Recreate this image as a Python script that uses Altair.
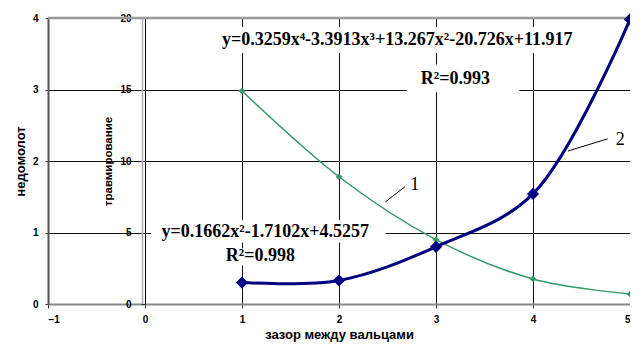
import altair as alt
import pandas as pd

# ---- data ----
gap = [1, 2, 3, 4, 5]
nedomolot = [2.98, 1.78, 0.90, 0.35, 0.14]      # left axis (curve 1)
travm = [1.5, 1.65, 4.0, 7.7, 19.9]            # second axis (curve 2)

x_ticks = [-1, 0, 1, 2, 3, 4, 5]
left_ticks = [0, 1, 2, 3, 4]
right_ticks = [0, 5, 10, 15, 20]

eq_text = ["y=0.3259x⁴-3.3913x³+13.267x²-20.726x+11.917", "R²=0.993",
           "y=0.1662x²-1.7102x+4.5257", "R²=0.998"]
eq_x = [2.60, 3.20, 1.24, 1.19]
eq_y = [3.69, 3.14, 1.01, 0.67]
box_x = [0.68, 2.70, 0.06, 0.77]
box_x2 = [4.50, 3.86, 2.48, 1.60]
box_y = [3.51, 2.96, 0.86, 0.54]
box_y2 = [3.875, 3.35, 1.17, 0.78]

num_text = ["1", "2"]
num_x = [2.78, 4.90]
num_y = [1.67, 2.29]
lead_x = [2.48, 4.36]
lead_x2 = [2.68, 4.77]
lead_y = [1.43, 2.14]
lead_y2 = [1.64, 2.31]

W, H = 582, 286

green_df = pd.DataFrame({"x": gap, "y": nedomolot})
blue_df = pd.DataFrame({"x": gap, "y": travm})
eq_df = pd.DataFrame({"t": eq_text, "x": eq_x, "y": eq_y})
box_df = pd.DataFrame({"x": box_x, "x2": box_x2, "y": box_y, "y2": box_y2})
num_df = pd.DataFrame({"t": num_text, "x": num_x, "y": num_y})
lead_df = pd.DataFrame({"x": lead_x, "x2": lead_x2, "y": lead_y, "y2": lead_y2})

xscale = alt.Scale(domain=[-1, 5], nice=False, zero=False)
lscale = alt.Scale(domain=[0, 4], nice=False)
rscale = alt.Scale(domain=[0, 20], nice=False)

xaxis = alt.Axis(values=x_ticks, format="d", title="зазор между вальцами",
                 grid=True, gridColor="#111", gridWidth=1,
                 domainColor="#888", domainWidth=2, tickColor="#333", tickSize=4,
                 labelPadding=6, titlePadding=4, titleFontSize=13, labelFontSize=10)
laxis = alt.Axis(values=left_ticks, format="d", title="недомолот",
                 grid=True, gridColor="#111", gridWidth=1,
                 domainColor="#555", domainWidth=2, tickColor="#333", tickSize=3,
                 labelPadding=7, titlePadding=5, titleFontSize=13, labelFontSize=10)
raxis = alt.Axis(values=right_ticks, format="d", title="травмирование", orient="left",
                 offset=-97, grid=False, domainColor="#000", domainWidth=1,
                 tickColor="#333", tickSize=4, labelPadding=10, titlePadding=6,
                 titleFontSize=11.5, labelFontSize=10)

X = alt.X("x:Q", scale=xscale, axis=xaxis)

boxes = alt.Chart(box_df).mark_rect(color="white").encode(
    x=alt.X("x:Q", scale=xscale), x2="x2:Q",
    y=alt.Y("y:Q", scale=lscale), y2="y2:Q")

top_rule = alt.Chart(pd.DataFrame({"y": [4]})).mark_rule(color="#999", strokeWidth=2.5).encode(
    y=alt.Y("y:Q", scale=lscale), x=alt.value(0), x2=alt.value(W))

green = alt.Chart(green_df).mark_line(
    color="#339966", strokeWidth=1.5, interpolate="cardinal",
    point=alt.OverlayMarkDef(shape="diamond", size=45, color="#339966", filled=True)
).encode(x=X, y=alt.Y("y:Q", scale=lscale, axis=laxis))

eqs = alt.Chart(eq_df).mark_text(font="Liberation Serif", fontWeight="bold", fontSize=18,
                                 color="black", align="center", baseline="middle").encode(
    x=alt.X("x:Q", scale=xscale), y=alt.Y("y:Q", scale=lscale), text="t:N")

leads = alt.Chart(lead_df).mark_rule(color="black", strokeWidth=1).encode(
    x=alt.X("x:Q", scale=xscale), x2="x2:Q", y=alt.Y("y:Q", scale=lscale), y2="y2:Q")

nums = alt.Chart(num_df).mark_text(font="Liberation Serif", fontSize=18, color="black",
                                   align="center", baseline="middle").encode(
    x=alt.X("x:Q", scale=xscale), y=alt.Y("y:Q", scale=lscale), text="t:N")

left_layer = alt.layer(boxes, top_rule, green, leads, nums, eqs)

gray_zero = alt.Chart(pd.DataFrame({"x": [0]})).mark_rule(color="#aaa", strokeWidth=1.5, xOffset=-2.5).encode(
    x=alt.X("x:Q", scale=xscale), y=alt.value(0), y2=alt.value(H))

blue = alt.Chart(blue_df).mark_line(
    color="#000080", strokeWidth=3, interpolate="catmull-rom",
    point=alt.OverlayMarkDef(shape="diamond", size=150, color="#000080", filled=True)
).encode(x=X, y=alt.Y("y:Q", scale=rscale, axis=raxis))

right_layer = alt.layer(gray_zero, blue)

chart = alt.layer(left_layer, right_layer).resolve_scale(y="independent").properties(
    width=W, height=H,
    autosize=alt.AutoSizeParams(type="none"),
    padding={"left": 40, "top": 10, "right": 0, "bottom": 39},
).configure_view(stroke=None).configure_axis(
    labelFont="Liberation Sans", labelFontWeight="bold", labelColor="black",
    titleFont="Liberation Sans", titleFontWeight="bold", titleColor="black",
)

chart.save("out.html", embed_options={"renderer": "svg", "actions": False})
